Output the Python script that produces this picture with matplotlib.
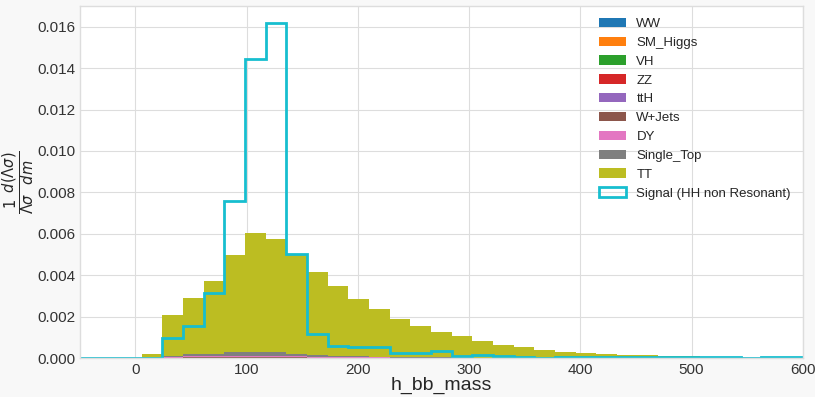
import matplotlib
matplotlib.use('Agg')
import matplotlib.pyplot as plt
import numpy as np

# 35 bins between -50 and 600
edges = np.linspace(-50, 600, 36)
centers = 0.5 * (edges[:-1] + edges[1:])

labels = ['WW', 'SM_Higgs', 'VH', 'ZZ', 'ttH', 'W+Jets', 'DY', 'Single_Top', 'TT']
colors = ['#1f77b4', '#ff7f0e', '#2ca02c', '#d62728', '#9467bd',
          '#8c564b', '#e377c2', '#7f7f7f', '#bcbd22']

ww = [0, 0, 0, 0, 0.000002, 0.000003, 0.000003, 0.000004, 0.000004, 0.000004, 0.000003, 0.000003,
      0.000002, 0.000002, 0.000002, 0.000001, 0.000001, 0.000001, 0, 0, 0, 0, 0, 0, 0, 0, 0, 0, 0,
      0, 0, 0, 0, 0, 0]
sm_higgs = [0, 0, 0, 0, 0.000001, 0.000002, 0.000003, 0.000004, 0.000005, 0.000005, 0.000004, 0.000002,
            0.000001, 0.000001, 0, 0, 0, 0, 0, 0, 0, 0, 0, 0, 0, 0, 0, 0, 0, 0, 0, 0, 0, 0, 0]
vh = [0, 0, 0, 0, 0.000001, 0.000002, 0.000003, 0.000004, 0.000005, 0.000005, 0.000004, 0.000002,
      0.000001, 0.000001, 0.000001, 0, 0, 0, 0, 0, 0, 0, 0, 0, 0, 0, 0, 0, 0, 0, 0, 0, 0, 0, 0]
zz = [0, 0, 0, 0, 0.000002, 0.000003, 0.000004, 0.000005, 0.000006, 0.000005, 0.000004, 0.000003,
      0.000002, 0.000002, 0.000001, 0.000001, 0, 0, 0, 0, 0, 0, 0, 0, 0, 0, 0, 0, 0, 0, 0, 0, 0, 0, 0]
tth = [0, 0, 0, 0, 0.000001, 0.000002, 0.000003, 0.000004, 0.000004, 0.000004, 0.000004, 0.000003,
       0.000002, 0.000002, 0.000001, 0.000001, 0.000001, 0, 0, 0, 0, 0, 0, 0, 0, 0, 0, 0, 0, 0, 0, 0,
       0, 0, 0]
wjets = [0, 0, 0, 0, 0.00001, 0.00002, 0.00002, 0.00002, 0.00002, 0.00002, 0.00002, 0.00001,
         0.00001, 0.00001, 0.00001, 0, 0, 0, 0, 0, 0, 0, 0, 0, 0, 0, 0, 0, 0, 0, 0, 0, 0, 0, 0]
dy = [0, 0, 0, 0.00001, 0.00003, 0.00006, 0.00006, 0.00006, 0.00007, 0.00006, 0.00005, 0.00004,
      0.00004, 0.00003, 0.00003, 0.00002, 0.00002, 0.00001, 0.00001, 0.00001, 0, 0, 0, 0, 0, 0, 0,
      0, 0, 0, 0, 0, 0, 0, 0]
single_top = [0, 0, 0, 0, 0.00003, 0.00009, 0.00009, 0.00018, 0.00020, 0.00019, 0.00013, 0.00007,
              0.00005, 0.00005, 0.00003, 0.00003, 0.00002, 0.00002, 0.00002, 0.00001, 0.00001,
              0.00001, 0, 0, 0, 0, 0, 0, 0, 0, 0, 0, 0, 0, 0]
tt = [0, 0, 0, 0.00017, 0.00200, 0.00274, 0.00353, 0.00469, 0.00571, 0.00546, 0.00479, 0.00401,
      0.00337, 0.00275, 0.00228, 0.00184, 0.00153, 0.00122, 0.00106, 0.00082, 0.00064, 0.00051,
      0.00039, 0.00031, 0.00025, 0.00020, 0.00017, 0.00014, 0.00010, 0.00011, 0.00007, 0.00007,
      0, 0, 0]
signal = [0, 0, 0, 0.00002, 0.00095, 0.00156, 0.00312, 0.00758, 0.01444, 0.01618, 0.00502, 0.00114,
          0.00059, 0.00055, 0.00054, 0.00027, 0.00027, 0.00034, 0.00012, 0.00016, 0.00010, 0.00006,
          0.00002, 0.00007, 0.00004, 0.00004, 0.00004, 0.00003, 0.00003, 0.00006, 0.00007, 0.00003,
          0.00001, 0.00006, 0.00006]

backgrounds = [ww, sm_higgs, vh, zz, tth, wjets, dy, single_top, tt]

plt.style.use('seaborn-v0_8-whitegrid')
plt.rcParams['font.family'] = ['Liberation Sans', 'DejaVu Sans']

fig = plt.figure(figsize=(8.15, 3.97), dpi=100, facecolor='#f8f8f8')
ax = fig.add_axes([0.098, 0.098, 0.887, 0.887])
ax.set_facecolor('white')

ax.hist([centers] * len(backgrounds), bins=edges, weights=backgrounds,
        stacked=True, histtype='stepfilled', color=colors, label=labels)
ax.hist(centers, bins=edges, weights=signal, histtype='step', lw=2,
        color='#17becf', label='Signal (HH non Resonant)')

ax.set_xlim(-50, 600)
ax.set_ylim(0, 0.017)
ax.set_yticks(np.arange(0, 0.0161, 0.002))
ax.tick_params(labelsize=11, colors='#333333')
for sp in ax.spines.values():
    sp.set_visible(True)
    sp.set_color('#dddddd')
ax.grid(color='#dddddd')

ax.set_xlabel('h_bb_mass', fontsize=14, labelpad=0)
ax.set_ylabel(r'$\frac{1}{\Lambda\sigma}\frac{d(\Lambda\sigma)}{dm}$', fontsize=15, labelpad=0)

# stacked hist legend comes out reversed; put it back in stacking order
handles, names = ax.get_legend_handles_labels()
order = [names.index(n) for n in labels + ['Signal (HH non Resonant)']]
ax.legend([handles[i] for i in order], [names[i] for i in order],
          loc='upper right', fontsize=9.5, frameon=False)

fig.savefig('out.png', dpi=100, facecolor=fig.get_facecolor())
